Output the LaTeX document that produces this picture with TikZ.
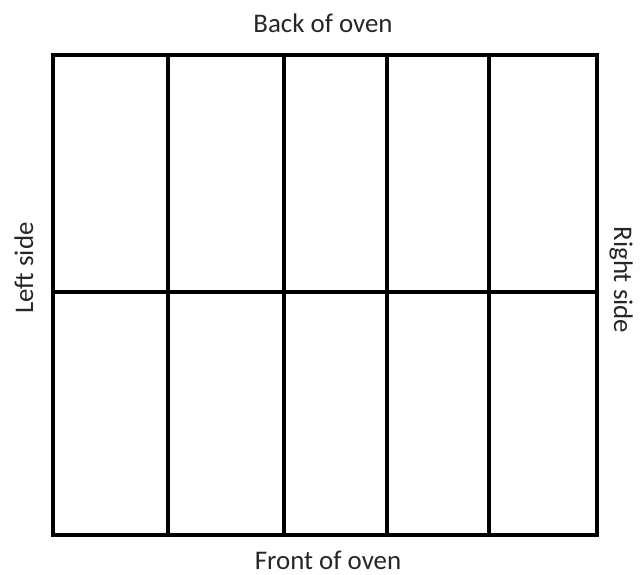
\documentclass[tikz,border=0pt]{standalone}
\usepackage{fontspec}
\setmainfont{Carlito}
\begin{document}
\begin{tikzpicture}[x=1bp,y=1bp,
  gridline/.style={line width=4.5bp, black},
  lbl/.style={font=\fontsize{27}{30}\selectfont, inner sep=0pt, anchor=base, text=black!85}]
\useasboundingbox (0,0) rectangle (644,575);
\coordinate (bl) at (53,40);
\coordinate (tr) at (597,520);
\coordinate (ml) at (53,283);
\coordinate (mr) at (597,283);
\foreach \x [count=\i] in {168,284,387,489}{
  \coordinate (b\i) at (\x,40);
  \coordinate (t\i) at (\x,520);
}
\draw[gridline] (ml) -- (mr);
\foreach \i in {1,...,4}{ \draw[gridline] (b\i) -- (t\i); }
\draw[gridline] (bl) rectangle (tr);
\node[lbl] (back) at (323,542) {Back of oven};
\node[lbl] (front) at (328,5.5) {Front of oven};
\node[lbl, rotate=90] (left) at (33,307) {Left side};
\node[lbl, rotate=-90] (right) at (614,295) {Right side};
\end{tikzpicture}
\end{document}
